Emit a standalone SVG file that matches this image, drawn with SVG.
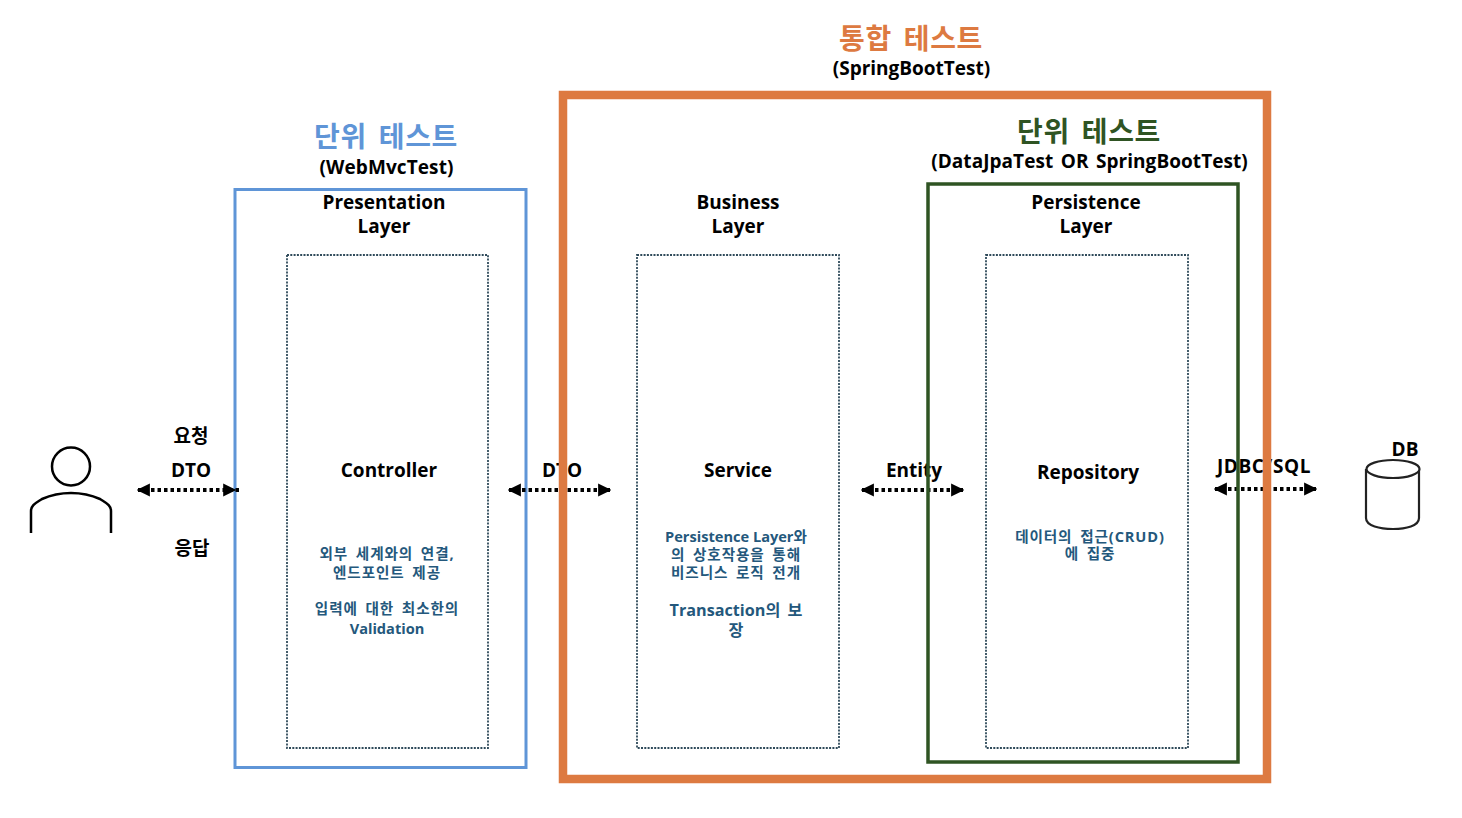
<svg xmlns="http://www.w3.org/2000/svg" width="1462" height="818" viewBox="0 0 1462 818">
<style>
text{font-family:"Open Sans","Noto Sans CJK KR",sans-serif;font-weight:700;text-anchor:middle;fill:#000}
.t{font-size:19px}
.h{font-size:28px;letter-spacing:.65px;word-spacing:4px}
.s{font-size:14.6px;fill:#24587c}
.k{letter-spacing:.9px;word-spacing:3px}
.inner{fill:#fff;stroke:#2f4a5a;stroke-width:1.8;stroke-dasharray:2 1.3}
.c{fill:none;stroke:#000;stroke-width:4;stroke-dasharray:3.500 3}
.frame{fill:none}
</style>
<defs>
<marker id="a" viewBox="0 0 10 10" refX="9" refY="5" markerWidth="3.300" markerHeight="3.300" orient="auto-start-reverse"><path d="M0 0L10 5L0 10z" fill="#000"/></marker>
<marker id="b" viewBox="0 0 13 10" refX="12" refY="5" markerWidth="4.290" markerHeight="3.300" orient="auto"><path d="M0 0L10 5L0 10z" fill="#000"/></marker>
</defs>
<rect width="1462" height="818" fill="#fff"/>
<g id="presentation">
<rect class="frame" x="235" y="189.500" width="291" height="578" stroke="#5f95d7" stroke-width="3"/>
<text class="h" x="386" y="147" style="fill:#5f95d7">단위 테스트</text>
<text class="t" x="386.500" y="174" style="letter-spacing:.1px">(WebMvcTest)</text>
<text class="t" x="384" y="209">Presentation</text>
<text class="t" x="384" y="233">Layer</text>
<rect class="inner" x="287" y="255" width="201" height="493"/>
<text class="t" x="389" y="477">Controller</text>
<text class="s k" x="387" y="559">외부 세계와의 연결,</text>
<text class="s k" x="387" y="578">엔드포인트 제공</text>
<text class="s k" x="387" y="614">입력에 대한 최소한의</text>
<text class="s" x="387" y="634">Validation</text>
</g>
<g id="business">
<text class="h" x="911" y="49" style="fill:#dd7a41">통합 테스트</text>
<text class="t" x="911.500" y="75">(SpringBootTest)</text>
<text class="t" x="738" y="209">Business</text>
<text class="t" x="738" y="233">Layer</text>
<rect class="inner" x="637" y="255" width="202" height="493"/>
<text class="t" x="738" y="477">Service</text>
<text class="s" x="736" y="542">Persistence Layer와</text>
<text class="s k" x="736" y="560">의 상호작용을 통해</text>
<text class="s k" x="736" y="578">비즈니스 로직 전개</text>
<text class="s" x="736" y="616" style="font-size:16.200px;word-spacing:3px">Transaction의 보</text>
<text class="s" x="736" y="636" style="font-size:16.200px">장</text>
</g>
<g id="persistence">
<text class="h" x="1089" y="142" style="fill:#2f5423">단위 테스트</text>
<text class="t" x="1089.500" y="168" style="word-spacing:2.500px;letter-spacing:.05px">(DataJpaTest OR SpringBootTest)</text>
<text class="t" x="1086" y="209">Persistence</text>
<text class="t" x="1086" y="233">Layer</text>
<rect class="inner" x="986" y="255" width="202" height="493"/>
<text class="t" x="1088" y="479">Repository</text>
<text class="s k" x="1090" y="542">데이터의 접근(CRUD)</text>
<text class="s k" x="1090" y="559">에 집중</text>
</g>
<g id="user">
<circle cx="71" cy="466.500" r="19" fill="none" stroke="#000" stroke-width="2.500"/>
<path d="M31 533V511C31 505 36 503 42 499C60 491 82 491 100 499C106 503 111 505 111 511V533" fill="none" stroke="#000" stroke-width="2.500"/>
</g>
<g id="db">
<text class="t" x="1405" y="456">DB</text>
<path d="M1366 469V518C1366 526 1380 529 1393 529C1406 529 1419 526 1419 518V469" fill="none" stroke="#222" stroke-width="2.200"/>
<ellipse cx="1393" cy="469" rx="26.500" ry="9" fill="#fff" stroke="#222" stroke-width="2.200"/>
</g>
<g id="connectors">
<path class="c" d="M138 490H239" marker-start="url(#a)" marker-end="url(#b)"/>
<path class="c" d="M509 490H610" marker-start="url(#a)" marker-end="url(#a)"/>
<path class="c" d="M862 490H963" marker-start="url(#a)" marker-end="url(#a)"/>
<path class="c" d="M1215 489H1316" marker-start="url(#a)" marker-end="url(#a)"/>
</g>
<g id="labels">
<text class="t" x="191" y="443">요청</text>
<text class="t" x="191" y="477">DTO</text>
<text class="t" x="192" y="555">응답</text>
<text class="t" x="562" y="477">DTO</text>
<text class="t" x="914" y="477">Entity</text>
<text class="t" x="1264" y="473" style="letter-spacing:.6px">JDBC/SQL</text>
</g>
<g id="frames">
<rect class="frame" x="563" y="95" width="704" height="684" stroke="#dd7a41" stroke-width="8.500"/>
<rect class="frame" x="928" y="184" width="310" height="578" stroke="#2f5423" stroke-width="3.500"/>
</g>
</svg>
